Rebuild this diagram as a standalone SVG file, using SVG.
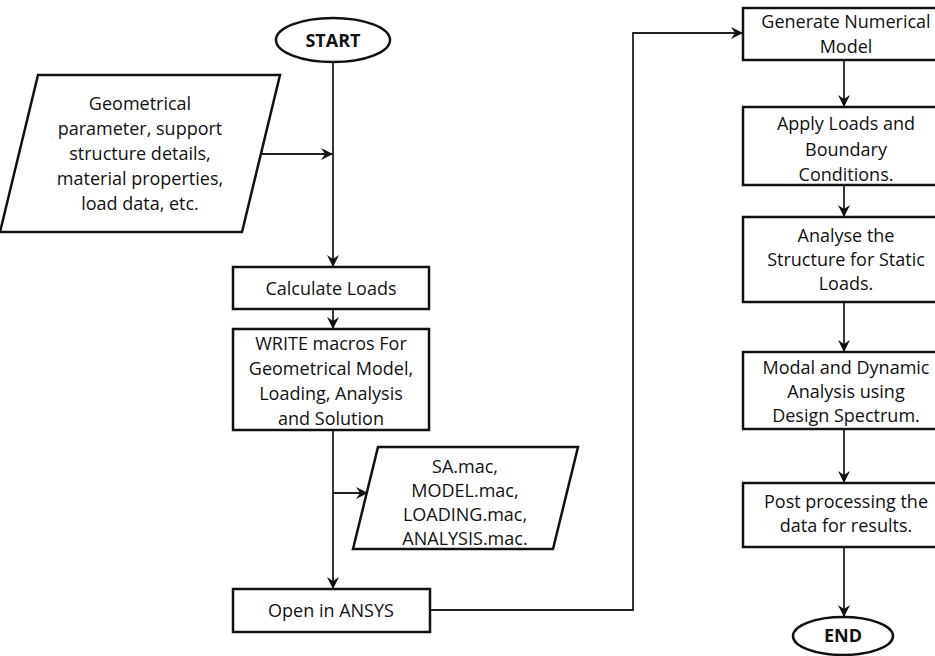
<svg xmlns="http://www.w3.org/2000/svg" width="935" height="656" viewBox="0 0 935 656">
<style>
.box{fill:#fff;stroke:#111;stroke-width:2.5}
.ln{fill:none;stroke:#222;stroke-width:1.8}
text{font-family:"Open Sans","Liberation Sans",sans-serif;font-size:18px;fill:#111;text-anchor:middle}
.b{font-weight:bold}
</style>
<defs>
<marker id="ah" viewBox="0 0 12 12" refX="11" refY="6" markerWidth="12" markerHeight="12" markerUnits="userSpaceOnUse" orient="auto">
<path d="M0,0 L12,6 L0,12 L4,6 z" fill="#111"/>
</marker>
</defs>
<rect width="935" height="656" fill="#fff"/>
<g id="connectors">
<path class="ln" d="M333,62 V266" marker-end="url(#ah)"/>
<path class="ln" d="M261,154 H332" marker-end="url(#ah)"/>
<path class="ln" d="M333,309 V328" marker-end="url(#ah)"/>
<path class="ln" d="M333,430 V588" marker-end="url(#ah)"/>
<path class="ln" d="M333,493 H367" marker-end="url(#ah)"/>
<path class="ln" d="M430,610 H633 V33 H742" marker-end="url(#ah)"/>
<path class="ln" d="M844,60 V106" marker-end="url(#ah)"/>
<path class="ln" d="M844,185 V216" marker-end="url(#ah)"/>
<path class="ln" d="M844,302 V351" marker-end="url(#ah)"/>
<path class="ln" d="M844,429 V482" marker-end="url(#ah)"/>
<path class="ln" d="M844,547 V616" marker-end="url(#ah)"/>
</g>
<g id="start">
<ellipse class="box" cx="333" cy="40" rx="57" ry="22"/>
<text class="b" x="333" y="47">START</text>
</g>
<g id="input">
<polygon class="box" points="38,75 280,75 242,232 0,232"/>
<text x="140" y="110">Geometrical</text>
<text x="140" y="135">parameter, support</text>
<text x="140" y="160">structure details,</text>
<text x="140" y="185">material properties,</text>
<text x="140" y="210">load data, etc.</text>
</g>
<g id="calc">
<rect class="box" x="233" y="267" width="196" height="42"/>
<text x="331" y="295">Calculate Loads</text>
</g>
<g id="write">
<rect class="box" x="233" y="329" width="196" height="101"/>
<text x="331" y="350">WRITE macros For</text>
<text x="331" y="375">Geometrical Model,</text>
<text x="331" y="400">Loading, Analysis</text>
<text x="331" y="425">and Solution</text>
</g>
<g id="macs">
<polygon class="box" points="378,447 578,447 553,549 353,549"/>
<text x="465" y="473">SA.mac,</text>
<text x="465" y="497">MODEL.mac,</text>
<text x="465" y="521">LOADING.mac,</text>
<text x="465" y="545">ANALYSIS.mac.</text>
</g>
<g id="ansys">
<rect class="box" x="233" y="589" width="197" height="43"/>
<text x="331" y="617">Open in ANSYS</text>
</g>
<g id="generate">
<rect class="box" x="743" y="8" width="205" height="52"/>
<text x="846" y="28">Generate Numerical</text>
<text x="846" y="53">Model</text>
</g>
<g id="apply">
<rect class="box" x="743" y="107" width="205" height="78"/>
<text x="846" y="130">Apply Loads and</text>
<text x="846" y="156">Boundary</text>
<text x="846" y="181">Conditions.</text>
</g>
<g id="analyse">
<rect class="box" x="743" y="217" width="205" height="85"/>
<text x="846" y="242">Analyse the</text>
<text x="846" y="266">Structure for Static</text>
<text x="846" y="290">Loads.</text>
</g>
<g id="modal">
<rect class="box" x="743" y="352" width="205" height="77"/>
<text x="846" y="374">Modal and Dynamic</text>
<text x="846" y="398">Analysis using</text>
<text x="846" y="422">Design Spectrum.</text>
</g>
<g id="post">
<rect class="box" x="743" y="483" width="205" height="64"/>
<text x="846" y="508">Post processing the</text>
<text x="846" y="532">data for results.</text>
</g>
<g id="end">
<ellipse class="box" cx="843" cy="636" rx="50" ry="19"/>
<text class="b" x="843" y="642">END</text>
</g>
</svg>
